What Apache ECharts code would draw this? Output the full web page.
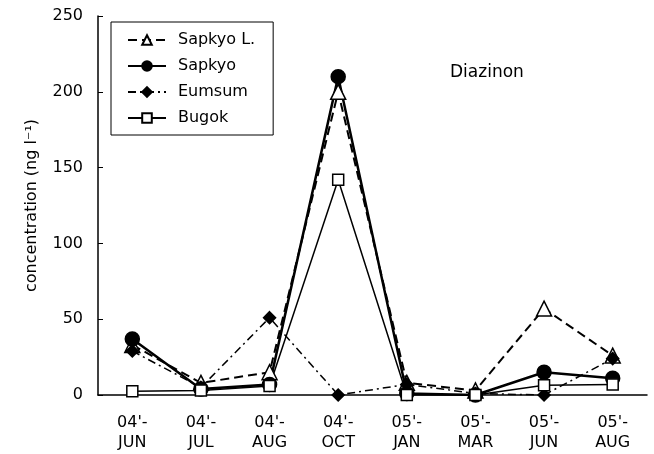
<!DOCTYPE html>
<html><head><meta charset="utf-8">
<script src="https://cdn.jsdelivr.net/npm/echarts@6/dist/echarts.min.js"></script>
<style>html,body{margin:0;padding:0;background:#fff}#c{width:654px;height:454px}</style>
</head><body><div id="c"></div>
<script>
const categories = ["04'-\nJUN","04'-\nJUL","04'-\nAUG","04'-\nOCT","05'-\nJAN","05'-\nMAR","05'-\nJUN","05'-\nAUG"];
const sapkyoL = [33, 8, 15, 200, 8, 3, 57, 26];
const sapkyo  = [37, 4, 7, 210, 1, 0, 15, 11];
const eumsum  = [29, 5, 51, 0, 7, 1, 0, 24];
const bugok   = [2.5, 3, 6, 142, 0, 0, 6.5, 7];
const yTicks = [0, 50, 100, 150, 200, 250];

const font = 'DejaVu Sans, Arial, sans-serif';
const chart = echarts.init(document.getElementById('c'));
function s(name, data, symbol, size, fill, lineType, width) {
  return {
    name, type: 'line', data, symbol, symbolSize: size,
    itemStyle: { color: fill, borderColor: '#000', borderWidth: 1.5 },
    lineStyle: { color: '#000', width, type: lineType },
    emphasis: { disabled: true }, animation: false, z: 3
  };
}
chart.setOption({
  backgroundColor: '#fff',
  textStyle: { fontFamily: font, color: '#000' },
  grid: { left: 98, right: 7, top: 16, bottom: 59 },
  legend: {
    orient: 'vertical', left: 111, top: 22,
    data: ['Sapkyo L.', 'Sapkyo', 'Eumsum', 'Bugok'],
    itemWidth: 38, itemHeight: 12, itemGap: 10,
    padding: [10, 18, 9, 16],
    borderColor: '#000', borderWidth: 1, borderRadius: 0,
    textStyle: { fontSize: 16, lineHeight: 16, color: '#000', fontFamily: font, padding: [0, 0, 0, 7] },
    inactiveColor: '#000'
  },
  xAxis: {
    type: 'category', data: categories, boundaryGap: true,
    axisLine: { lineStyle: { color: '#000', width: 1.5 } },
    axisTick: { inside: true, length: 5, lineStyle: { color: '#000' } },
    axisLabel: { fontSize: 16, color: '#000', lineHeight: 20, margin: 18, interval: 0, fontFamily: font }
  },
  yAxis: {
    type: 'value', min: 0, max: 250, interval: 50,
    name: 'concentration (ng l\u207B\u00B9)', nameLocation: 'middle', nameGap: 58,
    nameTextStyle: { fontSize: 16, color: '#000', fontFamily: font },
    axisLine: { show: true, lineStyle: { color: '#000', width: 1.5 } },
    axisTick: { show: true, inside: true, length: 5, lineStyle: { color: '#000' } },
    splitLine: { show: false },
    axisLabel: { fontSize: 16, color: '#000', margin: 15, fontFamily: font,
      formatter: v => yTicks.includes(v) ? String(v) : '' }
  },
  graphic: [{ type: 'text', left: 450, top: 64, style: { text: 'Diazinon', fontSize: 17, fill: '#000', fontFamily: font } }],
  series: [
    s('Sapkyo L.', sapkyoL, 'triangle', 15, '#fff', [9, 5], 2),
    s('Sapkyo', sapkyo, 'circle', 14, '#000', 'solid', 2.5),
    s('Eumsum', eumsum, 'diamond', 12, '#000', [8, 4, 2, 4], 1.5),
    s('Bugok', bugok, 'rect', 11, '#fff', 'solid', 1.5)
  ]
});
</script></body></html>
